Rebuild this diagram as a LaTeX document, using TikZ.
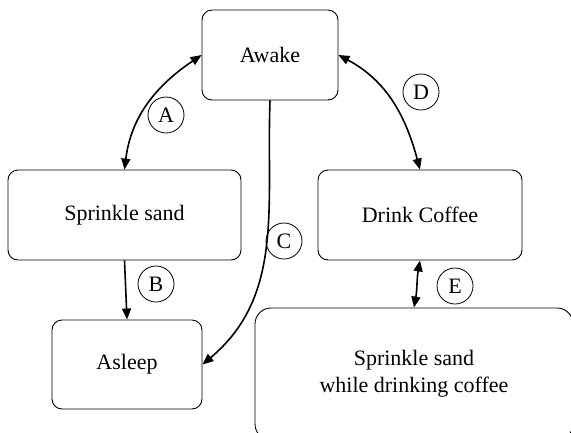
\documentclass[tikz,border=0pt]{standalone}
\usepackage{fontspec}
\setmainfont{Liberation Serif}
\usetikzlibrary{arrows.meta}
\begin{document}
\begin{tikzpicture}[x=1pt,y=1pt,
  state/.style={draw, line width=0.9pt, rounded corners=10pt, align=center,
    inner sep=0pt, font=\fontsize{22}{27}\selectfont},
  tag/.style={draw, circle, line width=0.8pt, minimum size=36pt, inner sep=0pt,
    font=\fontsize{22}{26}\selectfont},
  tip/.style={Triangle[length=11pt,width=9pt]},
  link/.style={line width=1.6pt, -{Triangle[length=11pt,width=9pt]}},
  twoway/.style={line width=1.6pt, {Triangle[length=11pt,width=9pt]}-{Triangle[length=11pt,width=9pt]}}]
\useasboundingbox (0,0) rectangle (571,-432);
\clip (0,0) rectangle (571,-432);

% states
\node[state, minimum width=136pt, minimum height=90pt] (awake) at (270,-55) {Awake};
\node[state, minimum width=233pt, minimum height=90pt] (sand) at (124.5,-215) {Sprinkle sand};
\node[state, minimum width=204pt, minimum height=90pt] (coffee) at (420,-215) {Drink Coffee};
\node[state, minimum width=150pt, minimum height=89pt] (asleep) at (127,-364.5) {Asleep};
\node[state, rounded corners=16pt, minimum width=318pt, minimum height=132pt] (mix) at (414,-374)
  {Sprinkle sand\\while drinking coffee};

% transitions
\draw[twoway] (sand.north) to[out=83, in=214] (awake.west);
\draw[link] (sand.south) -- (asleep.north);
\draw[link] (awake.south) to[out=-92, in=40] (asleep.east);
\draw[twoway] (awake.east) to[out=-28, in=105] (coffee.north);
\draw[twoway] (coffee.south) to[out=-100, in=80] (mix.north);

% transition labels
\node[tag] (la) at (166,-115) {A};
\node[tag] (lb) at (156,-284) {B};
\node[tag] (lc) at (284,-241) {C};
\node[tag] (ld) at (421,-92) {D};
\node[tag] (le) at (455,-286) {E};
\end{tikzpicture}
\end{document}
